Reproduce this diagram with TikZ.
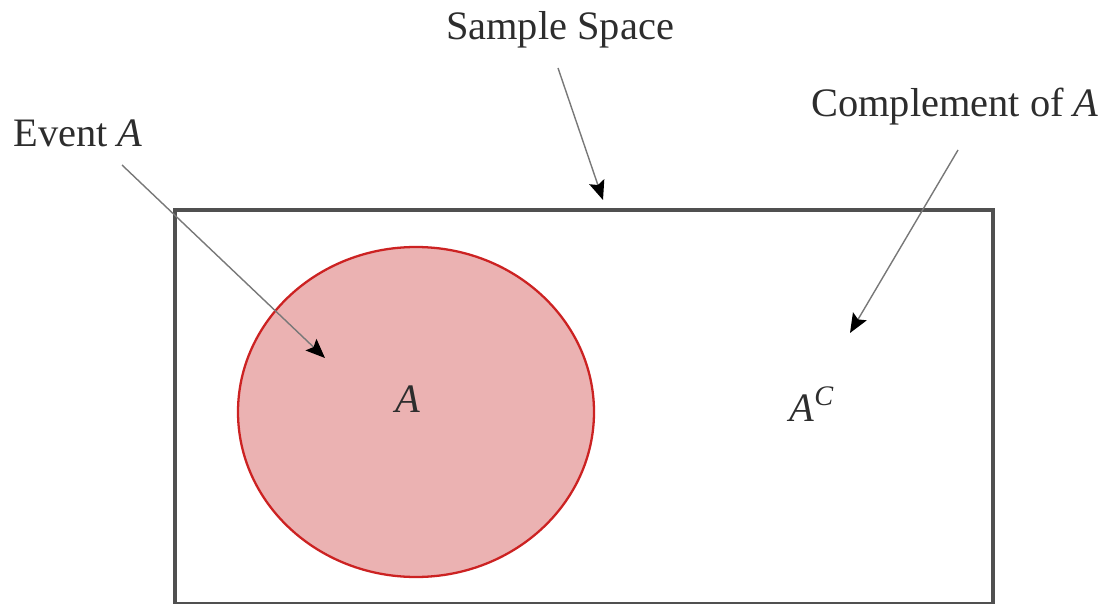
\documentclass[tikz,border=0pt]{standalone}
\usepackage{fontspec}
\setmainfont{Liberation Serif}
\usetikzlibrary{arrows.meta}
\definecolor{framegray}{RGB}{80,80,80}
\definecolor{arrowgray}{RGB}{120,120,120}
\definecolor{eventred}{RGB}{204,34,34}
\definecolor{eventfill}{RGB}{235,178,178}
\definecolor{textgray}{RGB}{45,45,45}

\begin{document}
\begin{tikzpicture}[
			label/.style={
				font=\fontsize{23}{27}\selectfont,
				text=textgray,
				inner sep=0pt
			},
			pointer/.style={
				-{Stealth[length=11pt,width=9pt,inset=2pt,black]},
				draw=arrowgray,
				line width=0.8pt
			}
			]
			\useasboundingbox (0,0) rectangle (22.26,12.06);
			
			% Sample space and event
			\draw[framegray,line width=2pt] (3.50,-0.02) rectangle (19.86,7.86);
			\draw[eventred,fill=eventfill,line width=1.3pt]
			(8.32,3.82) ellipse [x radius=3.56,y radius=3.30];
			
			% Labels
			\node[label] (space) at (11.20,11.46) {Sample Space};
			\node[label] (event) at (1.56,9.40) {Event \textit{A}};
			\node[label] (compl) at (19.10,9.92) {Complement of \textit{A}};
			\node[label] (seta) at (8.16,4.08) {\textit{A}};
			\node[label] (setac) at (16.24,3.98) {\textit{A}\textsuperscript{\textit{C}}};
			
			% Arrow ends
			\coordinate (spacetail) at (11.16,10.70);
			\coordinate (spacehead) at (12.06,8.06);
			\coordinate (eventtail) at (2.44,8.76);
			\coordinate (eventhead) at (6.50,4.90);
			\coordinate (compltail) at (19.16,9.06);
			\coordinate (complhead) at (17.00,5.40);
			
			% Pointers
			\draw[pointer] (spacetail) -- (spacehead);
			\draw[pointer] (eventtail) -- (eventhead);
			\draw[pointer] (compltail) -- (complhead);
			
		\end{tikzpicture}
\end{document}
